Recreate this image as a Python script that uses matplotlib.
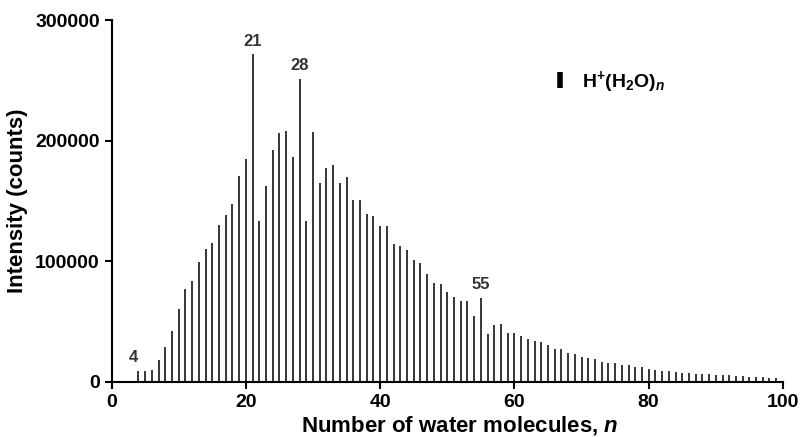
import numpy as np
import matplotlib
matplotlib.use("Agg")
import matplotlib.pyplot as plt
from matplotlib.lines import Line2D

# cluster size n and measured intensity (counts)
n_water = list(range(4, 100))
intensity = [
    8850, 9100, 10000, 18000, 29000, 42300, 60000, 76900, 83800, 99000,      # 4-13
    109800, 115400, 130000, 138000, 147700, 171000, 185000, 271600, 133300,  # 14-22
    162400, 192000, 206400, 207700, 186700, 251200, 133300, 206900, 165100,  # 23-31
    177600, 179800, 164900, 169900, 150500, 150500, 139400, 137200, 129500,  # 32-40
    128900, 114500, 112300, 109000, 101200, 98500, 89100, 81600, 80800,      # 41-49
    74400, 70000, 66700, 66700, 54800, 69700, 39300, 47000, 48100, 40700,    # 50-59
    40100, 37900, 35700, 34000, 32900, 30200, 27400, 26800, 24100, 23000,    # 60-69
    20700, 19600, 18500, 16300, 15800, 15200, 14100, 13600, 12400, 11900,    # 70-79
    10800, 9700, 9100, 8600, 8000, 7500, 6900, 6800, 6400, 6000,             # 80-89
    5800, 5500, 5300, 4900, 4700, 4100, 4000, 3600, 3200, 3400,              # 90-99
]
labelled = [4, 21, 28, 55]

plt.rcParams['font.family'] = ['Liberation Sans', 'DejaVu Sans']
plt.rcParams['font.weight'] = 'bold'
plt.rcParams['mathtext.fontset'] = 'custom'
plt.rcParams['mathtext.rm'] = 'Liberation Sans:bold'
plt.rcParams['mathtext.bf'] = 'Liberation Sans:bold'
plt.rcParams['mathtext.it'] = 'Liberation Sans:bold:italic'

fig = plt.figure(figsize=(8.03, 4.37), dpi=100)
ax = fig.add_axes([0.139, 0.1265, 0.836, 0.8275])

ax.vlines(n_water, 0, intensity, colors='black', linewidth=1.1)

for k in labelled:
    v = intensity[n_water.index(k)]
    dx = -4 if k == 4 else 0
    ax.annotate(str(k), (k, v), xytext=(dx, 4), textcoords='offset points',
                ha='center', va='bottom', fontsize=12, fontweight='bold',
                color='#333333')

ax.set_xlim(0, 100)
ax.set_ylim(0, 300000)
ax.set_xticks([0, 20, 40, 60, 80, 100])
ax.set_yticks([0, 100000, 200000, 300000])
ax.yaxis.set_major_formatter(matplotlib.ticker.FuncFormatter(lambda v, p: '%d' % v))

for s in ['top', 'right']:
    ax.spines[s].set_visible(False)
for s in ['left', 'bottom']:
    ax.spines[s].set_linewidth(1.5)
ax.tick_params(width=1.5, length=5, labelsize=14, direction='out')

ax.set_xlabel('Number of water molecules, $\\mathit{n}$', fontsize=16, fontweight='bold')
ax.xaxis.set_label_coords(0.519, -0.09, transform=ax.transAxes)
ax.set_ylabel('Intensity (counts)', fontsize=16, fontweight='bold', labelpad=5)

handle = Line2D([], [], color='black', linestyle='none', marker='|',
                markersize=11, markeredgewidth=4)
ax.legend([handle], ['H$^{+}$(H$_{2}$O)$_{\\mathit{n}}$'], loc='center left',
          bbox_to_anchor=(0.654, 0.83), frameon=False, fontsize=14,
          borderaxespad=0, borderpad=0,
          handlelength=1.0, handletextpad=0.6)

fig.savefig('out.png', dpi=100)
